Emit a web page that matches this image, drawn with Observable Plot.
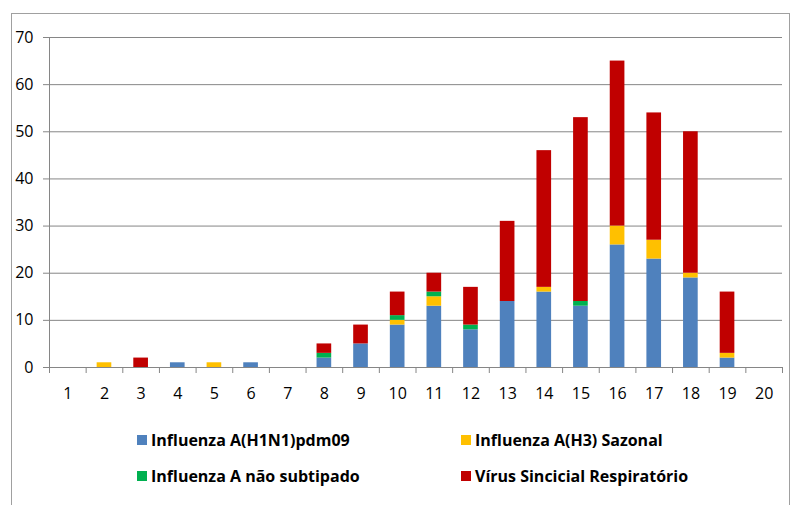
<!DOCTYPE html>
<html>
<head>
<meta charset="utf-8">
<script src="https://cdn.jsdelivr.net/npm/d3@7"></script>
<script src="https://cdn.jsdelivr.net/npm/@observablehq/plot@0.6"></script>
<style>
  html, body { margin: 0; padding: 0; background: #fff; }
  #wrap { position: relative; width: 794px; height: 505px; overflow: hidden; font-family: "Open Sans", sans-serif; }
  #frame { position: absolute; left: 11px; top: 13px; width: 779px; height: 520px; border: 1px solid #a0a0a0; box-sizing: border-box; }
  #chart { position: absolute; left: 0; top: 0; }
  .lg { position: absolute; display: flex; align-items: center; font-weight: 700; font-size: 16px; color: #000; white-space: nowrap; }
  .sw { width: 10px; height: 10px; margin-right: 4px; flex: none; }
</style>
</head>
<body>
<div id="wrap">
  <div id="frame"></div>
  <div id="chart"></div>
  <div id="legend"></div>
</div>
<script>
const weeks  = [1,2,3,4,5,6,7,8,9,10,11,12,13,14,15,16,17,18,19,20];
const h1n1   = [0,0,0,1,0,1,0,2,5,9,13,8,14,16,13,26,23,19,2,0];
const h3     = [0,1,0,0,1,0,0,0,0,1,2,0,0,1,0,4,4,1,1,0];
const naoSub = [0,0,0,0,0,0,0,1,0,1,1,1,0,0,1,0,0,0,0,0];
const vsr    = [0,0,2,0,0,0,0,2,4,5,4,8,17,29,39,35,27,30,13,0];
const seriesNames = ["Influenza A(H1N1)pdm09", "Influenza A(H3) Sazonal", "Influenza A não subtipado", "Vírus Sincicial Respiratório"];
const seriesColors = ["#4f81bd", "#ffc000", "#00b050", "#c00000"];
const yTicks = [0,10,20,30,40,50,60,70];

const seriesValues = [h1n1, h3, naoSub, vsr];
const rows = [];
weeks.forEach((w, i) => {
  let base = 0;
  seriesValues.forEach((vals, s) => {
    rows.push({week: w, series: seriesNames[s], y1: base, y2: base + vals[i]});
    base += vals[i];
  });
});
const boundaries = [weeks[0] - 0.5, ...weeks.map(w => w + 0.5)];
const gridColor = "#868686";

const chart = Plot.plot({
  width: 794,
  height: 410,
  marginLeft: 49,
  marginRight: 12,
  marginTop: 37,
  marginBottom: 43,
  style: {fontFamily: "Open Sans, sans-serif", fontSize: "16px", color: "#000", background: "transparent"},
  x: {type: "linear", domain: [weeks[0] - 0.5, weeks[weeks.length - 1] + 0.5], axis: null},
  y: {domain: [0, 70], axis: null},
  color: {domain: seriesNames, range: seriesColors},
  marks: [
    Plot.ruleY(yTicks.filter(v => v > 0), {stroke: gridColor, strokeWidth: 1}),
    Plot.rect(rows, {x1: d => d.week - 0.2, x2: d => d.week + 0.2, y1: "y1", y2: "y2", fill: "series"}),
    Plot.ruleY([0], {stroke: gridColor, strokeWidth: 1}),
    Plot.ruleX([boundaries[0]], {y1: 0, y2: 70, stroke: gridColor, strokeWidth: 1}),
    Plot.axisY(yTicks, {tickSize: 6, tickPadding: 10, stroke: gridColor, fill: "#000", fontSize: 16}),
    Plot.axisX(boundaries, {tickSize: 6, tickFormat: () => "", stroke: gridColor}),
    Plot.axisX(weeks, {tickSize: 0, tickPadding: 20, fill: "#000", fontSize: 16, tickFormat: d => String(d)})
  ]
});
document.getElementById("chart").appendChild(chart);

const legendPos = [[137, 440], [461, 440], [137, 476], [461, 476]];
const legend = document.getElementById("legend");
seriesNames.forEach((name, i) => {
  const el = document.createElement("div");
  el.className = "lg";
  el.style.left = legendPos[i][0] + "px";
  el.style.top = (legendPos[i][1] - 11) + "px";
  el.style.height = "22px";
  el.innerHTML = `<span class="sw" style="background:${seriesColors[i]}"></span><span>${name}</span>`;
  legend.appendChild(el);
});
</script>
</body>
</html>
